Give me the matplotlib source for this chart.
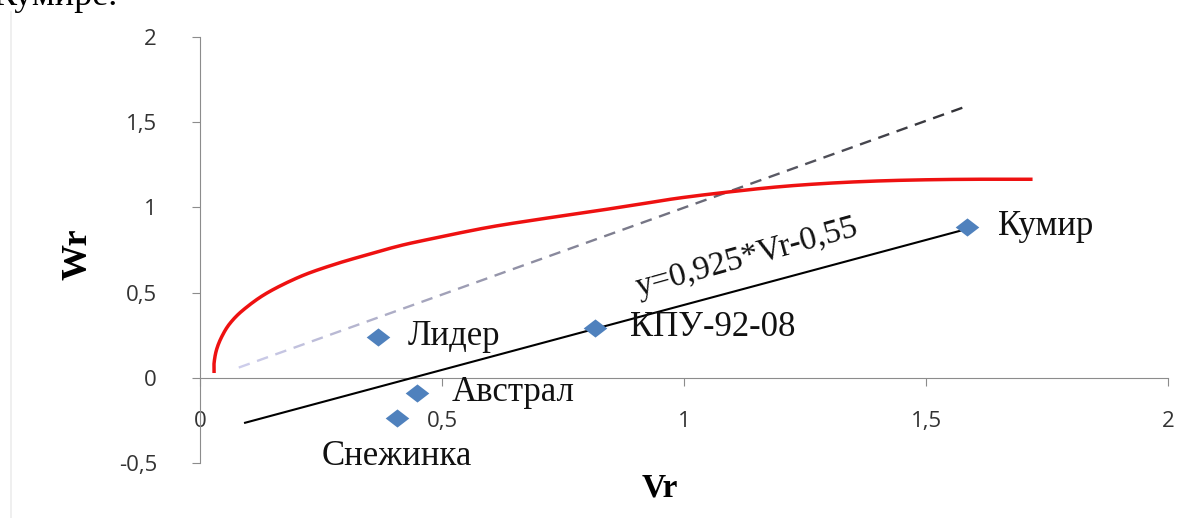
import numpy as np
import matplotlib
matplotlib.use("Agg")
import matplotlib.pyplot as plt
from matplotlib.collections import LineCollection
from matplotlib.lines import Line2D
from matplotlib.path import Path

# varieties (Vr, Wr)
names = ["Лидер", "Австрал", "Снежинка", "КПУ-92-08", "Кумир"]
vr = [0.368, 0.448, 0.407, 0.816, 1.585]
wr = [0.240, -0.088, -0.235, 0.293, 0.886]
# label offsets in pixels (dx, dy)
label_dx = [30, 35, 0, 35, 31]
label_dy = [0, 0, -39, 0, 0]

# limiting parabola
curve_vr = [0.029, 0.029, 0.034, 0.045, 0.062, 0.090, 0.138, 0.207, 0.275,
            0.344, 0.406, 0.46, 0.59, 0.70, 0.785, 0.90, 0.99, 1.10, 1.20,
            1.30, 1.40, 1.50, 1.60, 1.72]
curve_wr = [0.028, 0.086, 0.164, 0.242, 0.320, 0.400, 0.497, 0.594, 0.663,
            0.721, 0.770, 0.805, 0.88, 0.93, 0.965, 1.015, 1.055, 1.093, 1.122,
            1.142, 1.155, 1.162, 1.165, 1.165]

# regression line ends and the Wr = Vr diagonal ends
reg_vr = [0.093, 1.58]
reg_wr = [-0.264, 0.87]
diag_vr = [0.08, 1.59]
diag_wr = [0.06, 1.60]
equation = "y=0,925*Vr-0,55"

xticks = [0, 0.5, 1, 1.5, 2]
yticks = [-0.5, 0, 0.5, 1, 1.5, 2]

serif = "Liberation Serif"
sans = "Open Sans"


def smooth(xp, yp, steps=16):
    # Catmull-Rom pass through the points, like a smoothed Excel line
    p = np.column_stack([xp, yp])
    p = np.vstack([p[0], p, p[-1]])
    out = []
    for i in range(1, len(p) - 2):
        p0, p1, p2, p3 = p[i - 1], p[i], p[i + 1], p[i + 2]
        for s in np.linspace(0, 1, steps, endpoint=False):
            out.append(0.5 * (2 * p1 + (p2 - p0) * s
                              + (2 * p0 - 5 * p1 + 4 * p2 - p3) * s ** 2
                              + (3 * p1 - p0 - 3 * p2 + p3) * s ** 3))
    out.append(p[-2])
    out = np.array(out)
    return out[:, 0], out[:, 1]


fig = plt.figure(figsize=(12, 5.18), dpi=100)
ax = fig.add_axes([0.1667, 0.1062, 0.8067, 0.8224])
ax.set_xlim(0, 2)
ax.set_ylim(-0.5, 2)

for s in ["top", "right"]:
    ax.spines[s].set_visible(False)
ax.spines["left"].set_color("#8c8c8c")
ax.spines["bottom"].set_color("#8c8c8c")
ax.spines["bottom"].set_position(("data", 0))

ax.set_xticks(xticks)
ax.set_yticks(yticks)
fmt = lambda v: ("%g" % v).replace(".", ",")
ax.set_xticklabels([fmt(v) for v in xticks])
ax.set_yticklabels([fmt(v) for v in yticks])
ax.tick_params(axis="x", direction="out", length=6, color="#8c8c8c", pad=18,
               labelsize=16, labelcolor="#333333")
ax.tick_params(axis="y", direction="out", length=6, color="#8c8c8c", pad=25,
               labelsize=16, labelcolor="#333333")
for lab in ax.get_xticklabels() + ax.get_yticklabels():
    lab.set_family(sans)

# dashed diagonal, fading from lavender to dark grey
n = 40
xs = np.linspace(diag_vr[0], diag_vr[1], n + 1)
ys = np.linspace(diag_wr[0], diag_wr[1], n + 1)
segs = []
for i in range(n):
    x0, y0 = xs[i], ys[i]
    x1 = x0 + 0.6 * (xs[i + 1] - x0)
    y1 = y0 + 0.6 * (ys[i + 1] - y0)
    segs.append([(x0, y0), (x1, y1)])
c0 = np.array([205, 205, 235]) / 255
c1 = np.array([50, 50, 55]) / 255
t = np.linspace(0, 1, n)
cols = [tuple(c0 + (c1 - c0) * k) for k in t]
ax.add_collection(LineCollection(segs, colors=cols, linewidths=1.7, zorder=2))

cx, cy = smooth(curve_vr, curve_wr)
ax.plot(cx, cy, color="#ee1111", lw=2.5, solid_capstyle="butt", zorder=3)
ax.plot(reg_vr, reg_wr, color="black", lw=1.5, zorder=3)

diamond = Path([(-1.3, 0), (0, 1), (1.3, 0), (0, -1), (-1.3, 0)],
               [Path.MOVETO, Path.LINETO, Path.LINETO, Path.LINETO, Path.CLOSEPOLY])
ax.plot(vr, wr, linestyle="none", marker=diamond, markersize=17,
        color="#4f81bd", markeredgewidth=0, zorder=4)

for name, x, y, dx, dy in zip(names, vr, wr, label_dx, label_dy):
    ha = "left" if dx else "center"
    ax.annotate(name, (x, y), xytext=(dx, dy), textcoords="offset pixels",
                ha=ha, va="center", fontsize=25, family=serif, color="#111111",
                zorder=5)

ax.text(1.13, 0.704, equation, rotation=15.5, rotation_mode="anchor",
        ha="center", va="center", fontsize=24, family=serif, color="#111111")

fig.text(660 / 1200, 1 - 488 / 518, "Vr", ha="center", va="center",
         fontsize=24, fontweight="bold", family=serif)
fig.text(78 / 1200, 1 - 254 / 518, "Wr", ha="center", va="center", rotation=90,
         fontsize=26, fontweight="bold", family=serif)

# tail of the text line above the chart and the frame edge
fig.text(-7 / 1200, 1 - 5 / 518, "Кумире.", ha="left", va="baseline",
         fontsize=26, family=serif)
fig.add_artist(Line2D([11 / 1200, 11 / 1200], [0, 1 - 12 / 518], color="#ececec",
                      lw=1.2))

fig.savefig("out.png", dpi=100)
